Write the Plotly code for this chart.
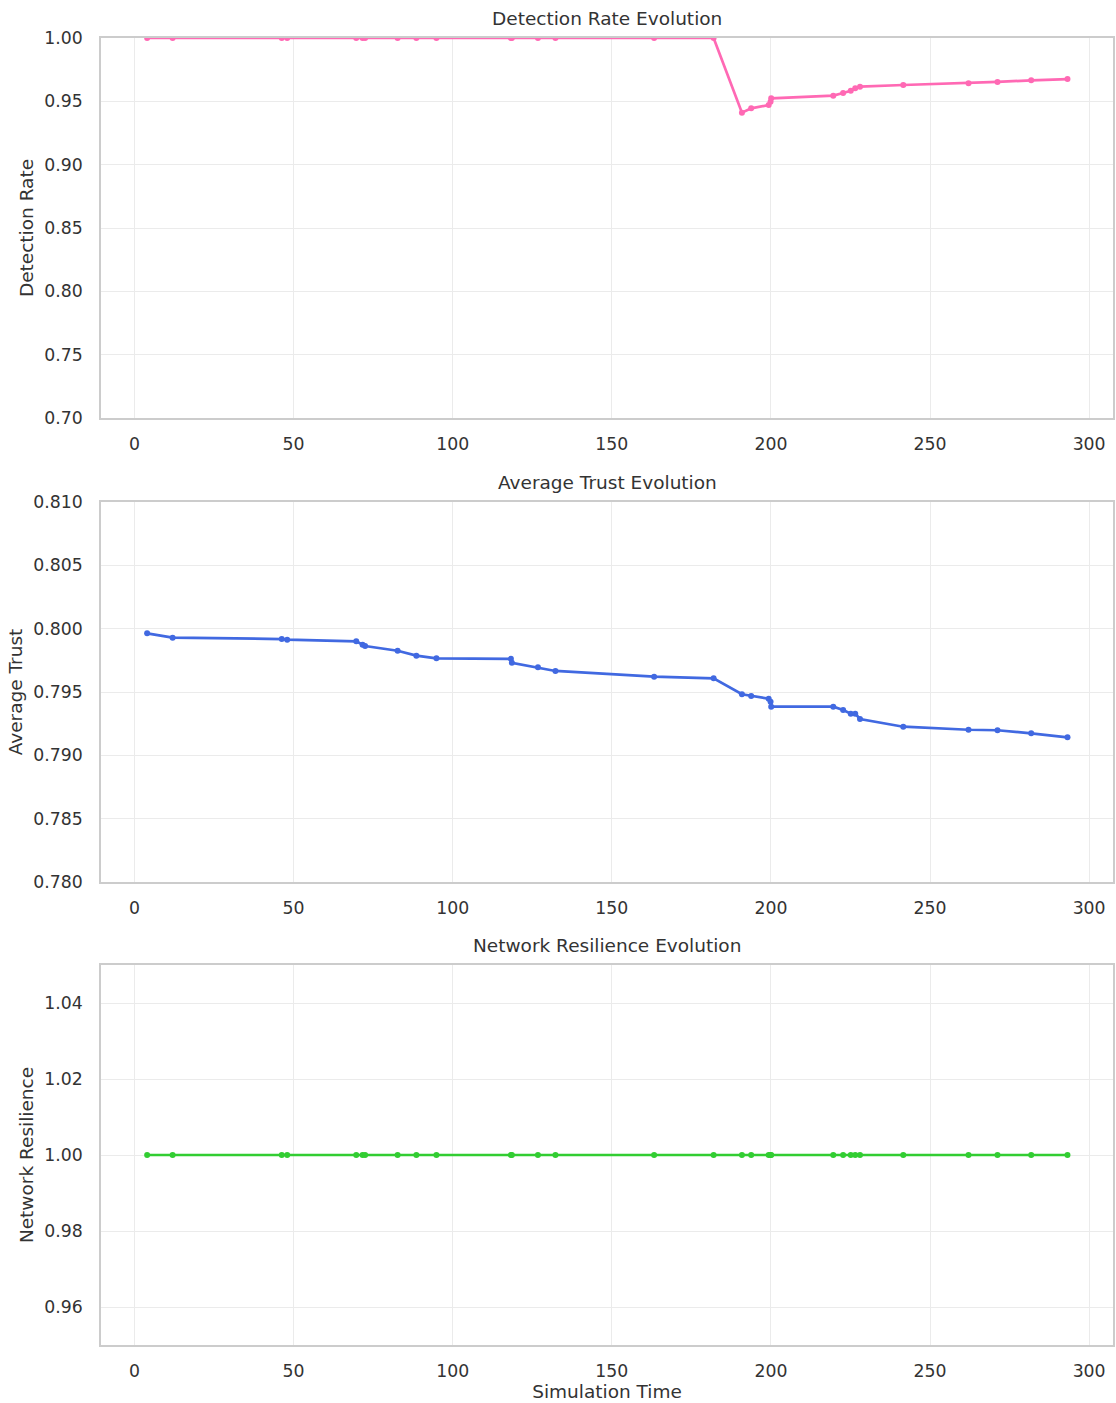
import plotly.graph_objects as go
from plotly.subplots import make_subplots

time = [4.0, 12.0, 46.3, 48.0, 69.7, 71.7, 72.5, 82.7, 88.6, 94.9, 118.3, 118.6,
        126.8, 132.3, 163.3, 182.0, 190.9, 193.8, 199.3, 199.9, 200.1, 219.6,
        222.7, 225.1, 226.5, 228.0, 241.6, 262.1, 271.2, 281.8, 293.2]
detection_rate = [1.0] * 16 + [0.9410, 0.9445, 0.9471, 0.9497, 0.9524, 0.9545,
                               0.9566, 0.9584, 0.9603, 0.9616, 0.9629, 0.9642,
                               0.9653, 0.9666, 0.9676]
average_trust = [0.79963, 0.79929, 0.79918, 0.79913, 0.79900, 0.79873, 0.79863,
                 0.79826, 0.79787, 0.79766, 0.79762, 0.79731, 0.79695, 0.79666,
                 0.79621, 0.79608, 0.79482, 0.79468, 0.79447, 0.79424, 0.79384,
                 0.79384, 0.79358, 0.79329, 0.79329, 0.79287, 0.79226, 0.79202,
                 0.79198, 0.79174, 0.79142]
network_resilience = [1.0] * 31

titles = ["Detection Rate Evolution", "Average Trust Evolution", "Network Resilience Evolution"]
ytitles = ["Detection Rate", "Average Trust", "Network Resilience"]
colors = ["#ff69b4", "#4169e1", "#32cd32"]
series = [detection_rate, average_trust, network_resilience]
yranges = [[0.70, 1.00], [0.780, 0.810], [0.95, 1.05]]
ydtick = [0.05, 0.005, 0.02]
ytick0 = [0.70, 0.780, 0.96]
yfmt = [".2f", ".3f", ".2f"]

fig = make_subplots(rows=3, cols=1, vertical_spacing=0.0)

H = 1403
top, bottom = 38, 58
ph = H - top - bottom
plots_px = [(38, 418), (502, 882), (965, 1345)]
FONT = "DejaVu Sans"
TXT = "#333333"

for i in range(3):
    fig.add_trace(go.Scatter(
        x=time, y=series[i], mode="lines+markers",
        line=dict(color=colors[i], width=2.7),
        marker=dict(color=colors[i], size=6),
        showlegend=False), row=i + 1, col=1)
    t, b = plots_px[i]
    dom = [(H - bottom - b) / ph, (H - bottom - t) / ph]
    ax = "" if i == 0 else str(i + 1)
    fig.layout["yaxis" + ax].update(
        domain=dom, range=yranges[i], dtick=ydtick[i], tick0=ytick0[i],
        tickformat=yfmt[i],
        title=dict(text=ytitles[i], font=dict(size=18.5, color=TXT), standoff=6),
        showgrid=True, gridcolor="#ebebeb", gridwidth=1,
        showline=True, mirror=True, linecolor="#cccccc", linewidth=1.5,
        zeroline=False, ticks="", ticklabelstandoff=13,
        tickfont=dict(size=17.3, color=TXT))
    fig.layout["xaxis" + ax].update(
        range=[-10.5, 307.5], dtick=50, tick0=0,
        showgrid=True, gridcolor="#ebebeb", gridwidth=1,
        showline=True, mirror=True, linecolor="#cccccc", linewidth=1.5,
        zeroline=False, ticks="", ticklabelstandoff=9,
        tickfont=dict(size=17.3, color=TXT))
    fig.add_annotation(text=titles[i], x=0.5, xref="paper",
                       y=(H - bottom - t + 20) / ph, yref="paper",
                       yanchor="middle", showarrow=False,
                       font=dict(size=18.5, color=TXT))

fig.layout["xaxis3"].update(title=dict(text="Simulation Time",
                                       font=dict(size=18.5, color=TXT), standoff=6))

fig.update_layout(
    width=1116, height=H,
    margin=dict(l=101, r=1, t=top, b=bottom),
    paper_bgcolor="white", plot_bgcolor="white",
    font=dict(family=FONT, color=TXT),
)

fig.write_html("out.html", config={"displayModeBar": False},
               post_script="document.body.style.margin='0';document.body.style.overflow='hidden';")
